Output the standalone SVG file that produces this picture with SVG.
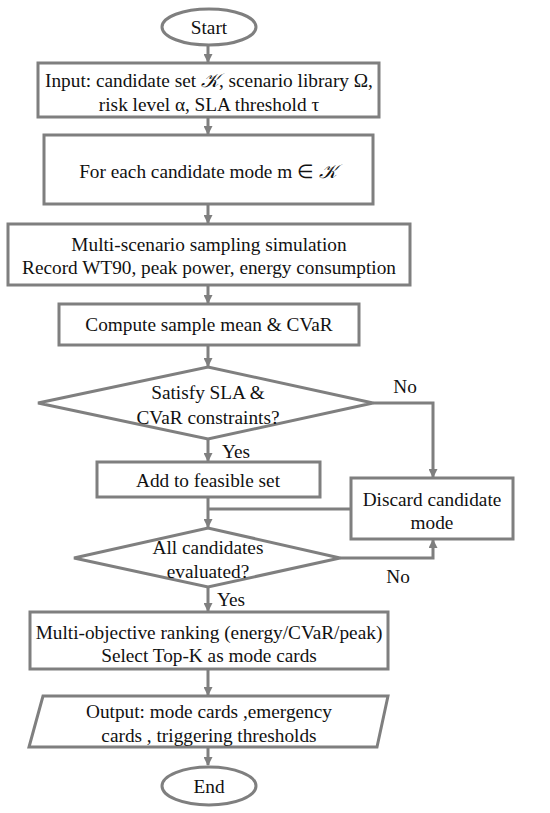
<svg xmlns="http://www.w3.org/2000/svg" width="550" height="813" viewBox="0 0 550 813" font-family="'Liberation Serif', 'Times New Roman', Times, serif">
<style>
.s{fill:#fff;stroke:#7f7f7f;stroke-width:3}
.c{fill:none;stroke:#7f7f7f;stroke-width:3}
text{font-family:'Liberation Serif','Times New Roman',Times,serif;font-size:19.3px;fill:#111;text-anchor:middle}
.m{font-family:'DejaVu Serif','DejaVu Sans',serif;font-style:italic}
</style>
<defs>
<marker id="a" markerWidth="9" markerHeight="9" refX="8" refY="4.5" orient="auto" markerUnits="userSpaceOnUse">
<path d="M0,0 L9,4.5 L0,9 Z" fill="#7f7f7f"/>
</marker>
</defs>
<g id="connectors">
<line class="c" x1="208" y1="46" x2="208" y2="62" marker-end="url(#a)"/>
<line class="c" x1="208" y1="118" x2="208" y2="134" marker-end="url(#a)"/>
<line class="c" x1="208" y1="205" x2="208" y2="223" marker-end="url(#a)"/>
<line class="c" x1="208" y1="286" x2="208" y2="303" marker-end="url(#a)"/>
<line class="c" x1="208" y1="346" x2="208" y2="366" marker-end="url(#a)"/>
<line class="c" x1="208" y1="440" x2="208" y2="461" marker-end="url(#a)"/>
<polyline class="c" points="373,403 433,403 433,477" marker-end="url(#a)"/>
<line class="c" x1="208" y1="498" x2="208" y2="527" marker-end="url(#a)"/>
<line class="c" x1="351" y1="509" x2="208" y2="509"/>
<polyline class="c" points="340,558 433,558 433,540" marker-end="url(#a)"/>
<line class="c" x1="208" y1="588" x2="208" y2="611" marker-end="url(#a)"/>
<line class="c" x1="208" y1="670" x2="208" y2="695" marker-end="url(#a)"/>
<line class="c" x1="208" y1="748" x2="208" y2="765" marker-end="url(#a)"/>
<text x="405" y="393">No</text>
<text x="236" y="458">Yes</text>
<text x="398" y="583">No</text>
<text x="231" y="606">Yes</text>
</g>
<g id="start">
<ellipse class="s" cx="209" cy="27" rx="47" ry="18"/>
<text x="209" y="34">Start</text>
</g>
<g id="input">
<rect class="s" x="38" y="63" width="341" height="54"/>
<text x="209" y="87">Input: candidate set <tspan class="m">𝒦</tspan>, scenario library Ω,</text>
<text x="209" y="111">risk level α, SLA threshold τ</text>
</g>
<g id="foreach">
<rect class="s" x="44" y="135" width="329" height="69"/>
<text x="208" y="178">For each candidate mode m ∈ <tspan class="m">𝒦</tspan></text>
</g>
<g id="simulate">
<rect class="s" x="8" y="224" width="402" height="61"/>
<text x="209" y="251">Multi-scenario sampling simulation</text>
<text x="209" y="274">Record WT90, peak power, energy consumption</text>
</g>
<g id="compute">
<rect class="s" x="59" y="304" width="300" height="41"/>
<text x="209" y="331">Compute sample mean &amp; CVaR</text>
</g>
<g id="satisfy">
<polygon class="s" points="38,403 208,367 373,403 208,439"/>
<text x="208" y="399">Satisfy SLA &amp;</text>
<text x="208" y="424">CVaR constraints?</text>
</g>
<g id="add">
<rect class="s" x="97" y="462" width="223" height="35"/>
<text x="208" y="487">Add to feasible set</text>
</g>
<g id="discard">
<rect class="s" x="351" y="478" width="162" height="61"/>
<text x="432" y="506">Discard candidate</text>
<text x="432" y="529">mode</text>
</g>
<g id="all">
<polygon class="s" points="74,558 208,528 340,558 208,587"/>
<text x="208" y="554">All candidates</text>
<text x="208" y="578">evaluated?</text>
</g>
<g id="rank">
<rect class="s" x="30" y="612" width="358" height="57"/>
<text x="209" y="639">Multi-objective ranking (energy/CVaR/peak)</text>
<text x="209" y="662">Select Top-K as mode cards</text>
</g>
<g id="output">
<polygon class="s" points="43,696 388,696 377,747 29,747"/>
<text x="209" y="718">Output: mode cards ,emergency</text>
<text x="209" y="742">cards , triggering thresholds</text>
</g>
<g id="end">
<ellipse class="s" cx="209" cy="786" rx="47" ry="19"/>
<text x="209" y="793">End</text>
</g>
</svg>
